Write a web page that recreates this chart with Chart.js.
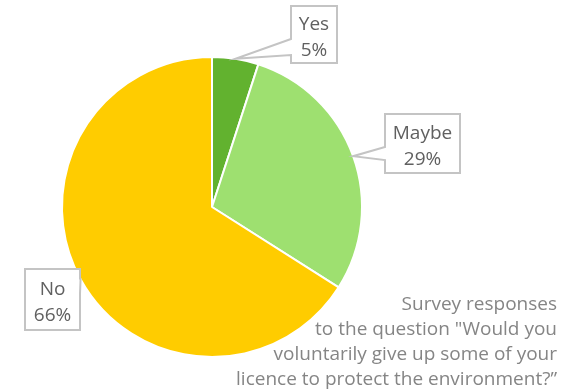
<!DOCTYPE html>
<html>
<head>
<meta charset="utf-8">
<script src="https://cdn.jsdelivr.net/npm/chart.js@4"></script>
<style>
  html, body { margin: 0; padding: 0; background: #fff; }
  #wrap { width: 572px; height: 392px; }
</style>
</head>
<body>
<div id="wrap"><canvas id="pie" width="572" height="392"></canvas></div>
<script>
// survey answers, percent
var answers = ['Yes', 'Maybe', 'No'];
var shares = [5, 29, 66];
var sliceColors = ['#62B22F', '#9EE070', '#FFCC00'];

var captionLines = [
    'Survey responses',
    'to the question "Would you',
    'voluntarily give up some of your',
    'licence to protect the environment?\u201D'
];

// label boxes: rect plus which side the pointer leaves from (fractions of that side)
var boxes = [
    {x: 291, y: 6,   w: 46, h: 57, side: 'left',  t0: 0.58, t1: 0.86},
    {x: 385, y: 114, w: 75, h: 59, side: 'left',  t0: 0.56, t1: 0.78},
    {x: 25,  y: 269, w: 55, h: 61, side: 'right', t0: 0.16, t1: 0.40}
];

var FONT = '"Open Sans", "Noto Sans", sans-serif';

var calloutPlugin = {
    id: 'callouts',
    afterDatasetsDraw: function(chart) {
        var ctx = chart.ctx;
        var arcs = chart.getDatasetMeta(0).data;
        ctx.save();
        for (var i = 0; i < arcs.length; i++) {
            var p = arcs[i].getProps(['x', 'y', 'startAngle', 'endAngle', 'outerRadius'], true);
            var mid = (p.startAngle + p.endAngle) / 2;
            var ax = p.x + Math.cos(mid) * p.outerRadius;
            var ay = p.y + Math.sin(mid) * p.outerRadius;
            var b = boxes[i];
            var ya = b.y + b.h * b.t0, yb = b.y + b.h * b.t1;

            ctx.beginPath();
            ctx.moveTo(b.x, b.y);
            ctx.lineTo(b.x + b.w, b.y);
            if (b.side == 'right') {
                ctx.lineTo(b.x + b.w, ya);
                ctx.lineTo(ax, ay);
                ctx.lineTo(b.x + b.w, yb);
            }
            ctx.lineTo(b.x + b.w, b.y + b.h);
            ctx.lineTo(b.x, b.y + b.h);
            if (b.side == 'left') {
                ctx.lineTo(b.x, yb);
                ctx.lineTo(ax, ay);
                ctx.lineTo(b.x, ya);
            }
            ctx.closePath();
            ctx.fillStyle = '#ffffff';
            ctx.fill();
            ctx.lineWidth = 2;
            ctx.strokeStyle = '#C4C4C4';
            ctx.lineJoin = 'miter';
            ctx.stroke();

            ctx.fillStyle = '#606060';
            ctx.font = '19px ' + FONT;
            ctx.textAlign = 'center';
            ctx.textBaseline = 'alphabetic';
            var cx = b.x + b.w / 2;
            var cy = b.y + b.h / 2;
            ctx.fillText(answers[i], cx, cy - 5);
            ctx.fillText(shares[i] + '%', cx, cy + 21);
        }

        // caption, bottom right
        ctx.fillStyle = '#858585';
        ctx.font = '19px ' + FONT;
        ctx.textAlign = 'right';
        for (var j = 0; j < captionLines.length; j++) {
            ctx.fillText(captionLines[j], 557, 310 + j * 25);
        }
        ctx.restore();
    }
};

new Chart(document.getElementById('pie'), {
    type: 'pie',
    data: {
        labels: answers,
        datasets: [{
            data: shares,
            backgroundColor: sliceColors,
            borderColor: '#ffffff',
            borderWidth: 2,
            hoverOffset: 0
        }]
    },
    options: {
        responsive: false,
        animation: false,
        events: [],
        layout: { padding: { left: 61, top: 56, right: 209, bottom: 34 } },
        plugins: {
            legend: { display: false },
            tooltip: { enabled: false }
        }
    },
    plugins: [calloutPlugin]
});
</script>
</body>
</html>
